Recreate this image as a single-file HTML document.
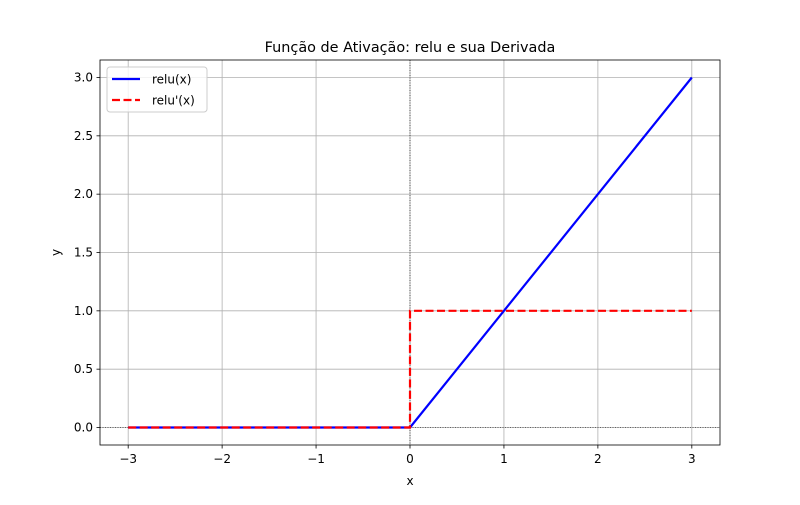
<!DOCTYPE html>
<html><head><meta charset="utf-8"><style>
body{margin:0;background:#fff}
svg text{font-family:"DejaVu Sans","Liberation Sans",sans-serif;fill:#000}
</style></head><body>
<svg id="chart" width="800" height="500" xmlns="http://www.w3.org/2000/svg"></svg>
<script>
const reluX = [-3, -2, -1, 0, 1, 2, 3];
const reluY = [0, 0, 0, 0, 1, 2, 3];
const derivX = [-3, 0, 0, 3];
const derivY = [0, 0, 1, 1];
const xTicks = [-3, -2, -1, 0, 1, 2, 3];
const xTickLabels = ["\u22123", "\u22122", "\u22121", "0", "1", "2", "3"];
const yTicks = [0, 0.5, 1, 1.5, 2, 2.5, 3];
const yTickLabels = ["0.0", "0.5", "1.0", "1.5", "2.0", "2.5", "3.0"];

const L=100,R=720,T=60,B=445,xmin=-3.3,xmax=3.3,ymin=-0.15,ymax=3.15;
const sx=v=>L+(v-xmin)/(xmax-xmin)*(R-L);
const sy=v=>B-(v-ymin)/(ymax-ymin)*(B-T);
const svg=document.getElementById('chart');
const NS='http://www.w3.org/2000/svg';
function mk(tag,attrs,parent){const e=document.createElementNS(NS,tag);for(const k in attrs)e.setAttribute(k,attrs[k]);(parent||svg).appendChild(e);return e;}

// grid
xTicks.forEach((t,i)=>{
  const g=mk('line',{x1:sx(t),x2:sx(t),y1:T,y2:B,stroke:'#b0b0b0','stroke-width':0.8});
  
  
  const tk=mk('line',{x1:sx(t),x2:sx(t),y1:B,y2:B+3.5,stroke:'#000','stroke-width':0.8});
  
  
  const tx=mk('text',{x:sx(t),y:B+18,'text-anchor':'middle','font-size':12});
  tx.textContent=xTickLabels[i];
  
  
});
yTicks.forEach((t,i)=>{
  const g=mk('line',{x1:L,x2:R,y1:sy(t),y2:sy(t),stroke:'#b0b0b0','stroke-width':0.8});
  
  
  const tk=mk('line',{x1:L-3.5,x2:L,y1:sy(t),y2:sy(t),stroke:'#000','stroke-width':0.8});
  
  
  const tx=mk('text',{x:L-7,y:sy(t)+4,'text-anchor':'end','font-size':12});
  tx.textContent=yTickLabels[i];
  
  
});
// zero lines
const zx=mk('line',{x1:sx(0),x2:sx(0),y1:T,y2:B,stroke:'#000','stroke-width':0.6,'stroke-dasharray':'1,1.5'});


const zy=mk('line',{x1:L,x2:R,y1:sy(0),y2:sy(0),stroke:'#000','stroke-width':0.6,'stroke-dasharray':'1,1.5'});



// series
const p1=mk('polyline',{points:reluX.map((x,i)=>sx(x)+','+sy(reluY[i])).join(' '),fill:'none',stroke:'#0000ff','stroke-width':2.2});


const p2=mk('polyline',{points:derivX.map((x,i)=>sx(x)+','+sy(derivY[i])).join(' '),fill:'none',stroke:'#ff0000','stroke-width':2.2,'stroke-dasharray':'8,3.5'});



// frame
const fr=mk('rect',{x:L,y:T,width:R-L,height:B-T,fill:'none',stroke:'#000','stroke-width':0.8});



// titles
const ti=mk('text',{x:(L+R)/2,y:52,'text-anchor':'middle','font-size':14.4});
ti.textContent='Função de Ativação: relu e sua Derivada';


const xl=mk('text',{x:(L+R)/2,y:485,'text-anchor':'middle','font-size':12});
xl.textContent='x';


const yl=mk('text',{x:0,y:0,'text-anchor':'middle','font-size':12,transform:`translate(60,${(T+B)/2}) rotate(-90)`});
yl.textContent='y';



// legend
const lg=mk('g',{});


mk('rect',{x:107,y:67,width:100,height:45,rx:3,fill:'#fff','fill-opacity':0.8,stroke:'#ccc','stroke-width':1},lg);
const e1=mk('g',{},lg);


mk('line',{x1:112,x2:140,y1:79,y2:79,stroke:'#0000ff','stroke-width':2.2},e1);
const t1=mk('text',{x:152,y:83.5,'font-size':12},e1);t1.textContent='relu(x)';
const e2=mk('g',{},lg);


mk('line',{x1:112,x2:140,y1:100,y2:100,stroke:'#ff0000','stroke-width':2.2,'stroke-dasharray':'8,3.5'},e2);
const t2=mk('text',{x:152,y:104.5,'font-size':12},e2);t2.textContent="relu'(x)";
</script>
</body></html>
